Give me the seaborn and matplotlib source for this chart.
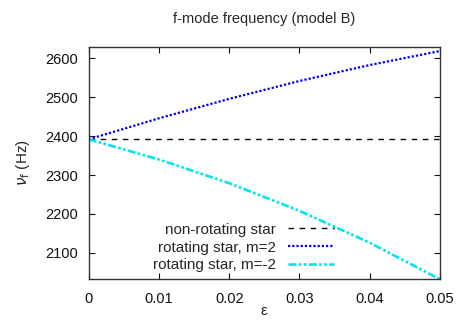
import numpy as np
import pandas as pd
import matplotlib
matplotlib.use("Agg")
import matplotlib.pyplot as plt
import seaborn as sns

# values
eps = [0.0, 0.01, 0.02, 0.03, 0.04, 0.05]
f_static = [2392, 2392, 2392, 2392, 2392, 2392]
f_m2 = [2392, 2446, 2496, 2542, 2583, 2619]
f_mneg2 = [2392, 2340, 2279, 2208, 2126, 2032]

x_ticks = [0, 0.01, 0.02, 0.03, 0.04, 0.05]
x_labels = ["0", "0.01", "0.02", "0.03", "0.04", "0.05"]
y_ticks = [2100, 2200, 2300, 2400, 2500, 2600]

sns.set_style("ticks")
plt.rcParams["font.family"] = ["Liberation Sans", "DejaVu Sans"]
plt.rcParams["font.size"] = 10

fig = plt.figure(figsize=(4.67, 3.27), dpi=100)
ax = fig.add_axes([0.19, 0.146, 0.752, 0.711])

sns.lineplot(x=eps, y=f_static, ax=ax, color="black", linewidth=1,
             label="non-rotating star")
ax.lines[-1].set_dashes([4, 4])
sns.lineplot(x=eps, y=f_m2, ax=ax, color="#0000ee", linewidth=1.6,
             label="rotating star, m=2")
ax.lines[-1].set_dashes([1, 0.9])
sns.lineplot(x=eps, y=f_mneg2, ax=ax, color="#00e5ee", linewidth=1.9,
             label="rotating star, m=-2")
ax.lines[-1].set_dashes([3, 0.9, 1, 0.9, 1, 0.9])

ax.set_xlim(0, 0.05)
ax.set_ylim(2032, 2630)
ax.set_xticks(x_ticks)
ax.set_xticklabels(x_labels)
ax.set_yticks(y_ticks)
ax.tick_params(direction="in", top=True, right=True, length=4,
               labelsize=10.5, colors="#111111", pad=8)
ax.tick_params(axis="x", pad=9)
for s in ax.spines.values():
    s.set_color("#333333")
    s.set_linewidth(1)

ax.set_title("f-mode frequency (model B)", fontsize=10.5, pad=17)
ax.set_xlabel("ε", fontsize=11, labelpad=-1)
ax.set_ylabel(r"$\nu_\mathrm{f}$ (Hz)", fontsize=11, labelpad=9)

leg = ax.legend(loc="lower right", bbox_to_anchor=(0.718, 0.0),
                frameon=False, markerfirst=False, fontsize=11,
                handlelength=3.0, labelspacing=0.25, handletextpad=0.8,
                borderaxespad=0.05)

fig.savefig("out.png", dpi=100)
